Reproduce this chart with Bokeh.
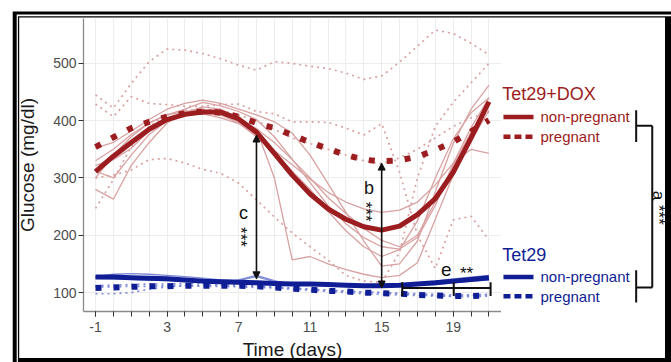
import math
from bokeh.plotting import figure
from bokeh.layouts import row
from bokeh.models import Range1d, FixedTicker, Arrow, NormalHead
from bokeh.embed import file_html
from bokeh.resources import INLINE
from bokeh.core.properties import value

# ---------------- data ----------------
days = list(range(-1, 22))
x_ticks = [-1, 3, 7, 11, 15, 19]
x_tick_labels = {-1: "-1"}
y_ticks = [100, 200, 300, 400, 500]

# Tet29+DOX
dox_np_mean = [311, 338, 362, 385, 402, 411, 415, 415, 403, 380, 343, 305, 272, 246, 228, 215, 209, 216, 236, 264, 310, 370, 433]
dox_p_mean = [354, 371, 387, 398, 407, 413, 416, 414, 407, 396, 387, 375, 362, 351, 340, 332, 329, 331, 337, 349, 363, 381, 401]

dox_np_1 = [280, 263, 322, 362, 396, 414, 424, 420, 405, 386, 362, 332, 300, 266, 238, 212, 191, 180, 200, 258, 322, 380, 428]
dox_np_2 = [330, 350, 376, 396, 410, 420, 432, 426, 416, 402, 372, 333, 292, 252, 220, 196, 180, 176, 196, 252, 325, 388, 440]
dox_np_3 = [322, 332, 352, 382, 402, 412, 416, 410, 402, 385, 300, 157, 163, 150, 140, 132, 126, 130, 152, 228, 305, 365, 418]
dox_np_4 = [300, 340, 372, 396, 410, 416, 418, 410, 396, 372, 348, 323, 298, 275, 258, 246, 240, 244, 258, 288, 326, 350, 343]
dox_np_5 = [352, 362, 382, 402, 420, 430, 436, 430, 420, 410, 398, 378, 340, 290, 240, 190, 146, 150, 190, 276, 360, 420, 462]
dox_np_6 = [312, 300, 340, 376, 400, 410, 412, 405, 395, 376, 346, 312, 280, 242, 208, 180, 163, 175, 225, 300, 368, 414, 440]

dox_p_1 = [445, 422, 465, 503, 525, 523, 517, 508, 497, 488, 503, 500, 495, 491, 483, 472, 478, 502, 530, 558, 552, 535, 515]
dox_p_2 = [429, 407, 442, 430, 428, 425, 425, 428, 429, 416, 412, 398, 398, 397, 387, 375, 395, 310, 200, 142, 227, 233, 192]
dox_p_3 = [300, 305, 314, 332, 334, 326, 315, 308, 291, 262, 232, 204, 180, 157, 130, 120, 118, 170, 300, 390, 432, 466, 500]
dox_p_4 = [247, 297, 355, 390, 410, 418, 420, 418, 410, 400, 385, 370, 360, 350, 340, 330, 325, 335, 350, 370, 390, 405, 415]

# Tet29
t_np_mean = [127, 127, 126, 125, 124, 122, 120, 119, 118, 117, 116, 115, 115, 114, 113, 112, 112, 113, 115, 117, 120, 123, 126]
t_p_mean = [108, 109, 110, 111, 111, 112, 112, 112, 112, 111, 109, 107, 105, 103, 102, 100, 99, 98, 96, 95, 94, 94, 95]

t_np_1 = [128, 132, 133, 132, 130, 128, 125, 122, 121, 128, 119, 116, 117, 115, 114, 113, 113, 115, 117, 120, 124, 127, 130]
t_np_2 = [125, 124, 123, 122, 121, 120, 119, 118, 122, 130, 121, 114, 113, 112, 112, 111, 111, 112, 113, 114, 117, 120, 122]
t_np_3 = [127, 128, 127, 126, 125, 124, 122, 121, 119, 118, 116, 115, 114, 113, 112, 111, 110, 111, 113, 116, 119, 122, 125]

t_p_1 = [98, 98, 100, 106, 110, 112, 113, 113, 112, 111, 109, 106, 104, 102, 100, 98, 97, 96, 95, 94, 94, 95, 96]
t_p_2 = [112, 113, 114, 115, 115, 116, 116, 115, 114, 112, 110, 108, 106, 104, 102, 101, 100, 99, 98, 97, 96, 96, 97]
t_p_3 = [110, 110, 111, 111, 112, 112, 111, 111, 110, 109, 108, 107, 106, 104, 103, 101, 100, 98, 97, 95, 93, 93, 94]

# colours / fonts
RED = "#9C1D20"
RED_L = "#D9A2A2"
BLUE = "#101E96"
BLUE_L = "#7F8AD6"
INK = "#111111"
FONT = "Liberation Sans"
tf = value(FONT)

Y_RANGE = (67.0, 578.3)

# ---------------- main panel ----------------
p = figure(width=501, height=362, x_range=Range1d(-1.671, 21.70), y_range=Range1d(*Y_RANGE),
           min_border_left=83, min_border_right=0, min_border_top=18, min_border_bottom=50,
           output_backend="svg", toolbar_location=None,
           background_fill_color="white", border_fill_color=None, outline_line_color=None)

for ax in (p.xaxis, p.yaxis):
    ax.axis_line_color = "#8A8A8A"
    ax.axis_line_width = 1.3
    ax.major_tick_line_color = "#333333"
    ax.major_tick_in = 0
    ax.major_tick_out = 5
    ax.minor_tick_line_color = "#333333"
    ax.minor_tick_in = 0
    ax.minor_tick_out = 5
    ax.major_label_text_font = FONT
    ax.major_label_text_font_size = "14px"
    ax.major_label_text_color = "#4D4D4D"
    ax.axis_label_text_font = FONT
    ax.axis_label_text_font_size = "19px"
    ax.axis_label_text_font_style = "normal"
    ax.axis_label_text_color = "#1A1A1A"

p.xaxis.ticker = FixedTicker(ticks=x_ticks, minor_ticks=days)
p.xaxis.major_label_overrides = x_tick_labels
p.xaxis.axis_label = "Time (days)"
p.xaxis.major_label_standoff = 5
p.xaxis.axis_label_standoff = 4
p.yaxis.ticker = FixedTicker(ticks=y_ticks, minor_ticks=[])
p.yaxis.axis_label = "Glucose (mg/dl)"
p.yaxis.major_label_standoff = 2
p.yaxis.axis_label_standoff = 12

p.xgrid.ticker = FixedTicker(ticks=days)
p.xgrid.grid_line_color = "#EDEDED"
p.ygrid.ticker = FixedTicker(ticks=y_ticks)
p.ygrid.grid_line_color = "#EDEDED"

# Tet29+DOX
p.multi_line([days] * 6, [dox_np_1, dox_np_2, dox_np_3, dox_np_4, dox_np_5, dox_np_6],
             line_color=RED_L, line_width=1.3)
p.multi_line([days] * 4, [dox_p_1, dox_p_2, dox_p_3, dox_p_4],
             line_color=RED_L, line_width=1.7, line_dash="2 4")
p.line(days, dox_np_mean, line_color=RED, line_width=5)
p.line(days, dox_p_mean, line_color=RED, line_width=6, line_dash="6 12")

# Tet29
p.multi_line([days] * 3, [t_p_1, t_p_2, t_p_3], line_color=BLUE_L, line_width=1.7, line_dash="2 4")
p.multi_line([days] * 3, [t_np_1, t_np_2, t_np_3], line_color=BLUE_L, line_width=1.3)
p.line(days, t_np_mean, line_color=BLUE, line_width=5)
p.line(days, t_p_mean, line_color=BLUE, line_width=6, line_dash="6 12")

# significance arrows b, c
for xa, y0, y1 in [(8, 124, 375), (15, 108, 326)]:
    p.add_layout(Arrow(x_start=xa, y_start=y0, x_end=xa, y_end=y1, line_color=INK, line_width=1.6,
                       start=NormalHead(size=7, fill_color=INK, line_color=INK),
                       end=NormalHead(size=7, fill_color=INK, line_color=INK)))

p.text(x=[7.275, 14.29], y=[239, 282], text=["c", "b"], text_font=tf, text_font_size="18px",
       text_color=INK, text_align="center", text_baseline="middle")
p.text(x=[7.11, 14.12], y=[197, 241], text=["***", "***"], text_font=tf, text_font_size="17px",
       text_color=INK, text_align="center", text_baseline="middle", angle=-math.pi / 2)

# e bracket
p.segment(x0=[16.15], y0=[108], x1=[21.09], y1=[108], line_color=INK, line_width=2)
p.segment(x0=[16.15, 19.03, 21.09], y0=[94] * 3, x1=[16.15, 19.03, 21.09], y1=[118] * 3,
          line_color=INK, line_width=2)
p.text(x=[18.61], y=[141], text=["e"], text_font=tf, text_font_size="19px", text_color=INK,
       text_align="center", text_baseline="middle")
p.text(x=[19.75], y=[133], text=["**"], text_font=tf, text_font_size="17px", text_color=INK,
       text_align="center", text_baseline="middle")

# ---------------- right panel: legend and bracket a (frame aligned with main panel) ----------------
q = figure(width=170, height=362, x_range=Range1d(21.70, 31.206), y_range=Range1d(*Y_RANGE),
           x_axis_type=None, y_axis_type=None,
           min_border_left=0, min_border_right=0, min_border_top=18, min_border_bottom=50,
           output_backend="svg", toolbar_location=None,
           background_fill_color=None, border_fill_color=None, outline_line_color=None)

q.text(x=[21.74], y=[447.3], text=["Tet29+DOX"], text_font=tf, text_font_size="18px", text_color=RED,
       text_align="left", text_baseline="middle")
q.text(x=[21.74], y=[166.1], text=["Tet29"], text_font=tf, text_font_size="18px", text_color=BLUE,
       text_align="left", text_baseline="middle")
q.segment(x0=[21.81, 21.81], y0=[406.6, 127.3], x1=[23.49, 23.49], y1=[406.6, 127.3],
          line_color=[RED, BLUE], line_width=4.5)
q.segment(x0=[21.81, 21.81], y0=[371.8, 93.6], x1=[23.49, 23.49], y1=[371.8, 93.6],
          line_color=[RED, BLUE], line_width=4.5, line_dash="7 4")
q.text(x=[23.88] * 4, y=[406.6, 371.8, 127.3, 93.6],
       text=["non-pregnant", "pregnant", "non-pregnant", "pregnant"],
       text_font=tf, text_font_size="15px", text_color=[RED, RED, BLUE, BLUE],
       text_align="left", text_baseline="middle")

q.segment(x0=[29.23, 29.23, 30.13, 29.23, 29.23], y0=[363, 391, 108.7, 108.7, 82.6],
          x1=[29.23, 30.13, 30.13, 30.13, 29.23], y1=[418, 391, 391, 108.7, 138.8],
          line_color=INK, line_width=2)
q.text(x=[30.50], y=[248], text=["a ***"], text_font=tf, text_font_size="17px", text_color=INK,
       text_align="center", text_baseline="middle", angle=-math.pi / 2)

# double page frame: thick + thin on left/top, thick on right/bottom
frame_css = ("inset 12.7px 11.5px 0 0 #ffffff, inset 16.7px 14.5px 0 0 #000000, "
             "inset 17.9px 16.2px 0 0 #ffffff, inset 19.2px 17.5px 0 0 #000000, "
             "inset -6px -4px 0 0 #000000")
layout = row(p, q, styles={"box-shadow": frame_css})

open("out.html", "w").write(file_html(layout, INLINE))
